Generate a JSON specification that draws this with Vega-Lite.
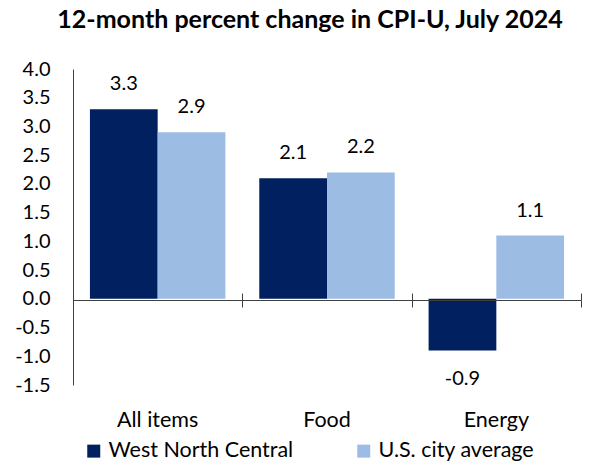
{
  "$schema": "https://vega.github.io/schema/vega-lite/v6.json",
  "autosize": "none",
  "width": 508,
  "height": 316,
  "padding": {"left": 73, "top": 69, "right": 17, "bottom": 81},
  "background": "white",
  "title": {"text": "12-month percent change in CPI-U, July 2024", "font": "Lato", "fontSize": 25, "fontWeight": "bold", "color": "black", "anchor": "middle", "dx": -17, "offset": 26},
  "config": {"view": {"stroke": null}, "font": "Lato"},
  "data": {"values": [
    {"cat": "All items", "series": "West North Central", "v": 3.3},
    {"cat": "All items", "series": "U.S. city average", "v": 2.9},
    {"cat": "Food", "series": "West North Central", "v": 2.1},
    {"cat": "Food", "series": "U.S. city average", "v": 2.2},
    {"cat": "Energy", "series": "West North Central", "v": -0.9},
    {"cat": "Energy", "series": "U.S. city average", "v": 1.1}
  ]},
  "encoding": {
    "x": {"field": "cat", "type": "nominal", "sort": ["All items", "Food", "Energy"], "scale": {"paddingInner": 0, "paddingOuter": 0}},
    "xOffset": {"field": "series", "type": "nominal", "sort": ["West North Central", "U.S. city average"], "scale": {"paddingInner": 0, "paddingOuter": 0.25}},
    "y": {"field": "v", "type": "quantitative", "scale": {"domain": [-1.5, 4], "nice": false, "zero": false},
      "axis": {"title": null, "grid": false, "ticks": false, "domain": true, "domainColor": "#404040", "domainWidth": 1, "values": [-1.5, -1, -0.5, 0, 0.5, 1, 1.5, 2, 2.5, 3, 3.5, 4], "format": ".1f", "labelExpr": "replace(datum.label, '\u2212', '-')", "labelFont": "Lato", "labelFontSize": 20, "labelColor": "black", "labelPadding": 23}}
  },
  "layer": [
    {
      "mark": {"type": "bar"},
      "encoding": {
        "x": {"field": "cat", "type": "nominal", "sort": ["All items", "Food", "Energy"], "axis": {"title": null, "orient": "bottom", "offset": -85, "labels": false, "domain": true, "domainColor": "#404040", "ticks": true, "tickColor": "#404040", "tickSize": 7, "tickBand": "extent", "zindex": 1}},
        "color": {"field": "series", "type": "nominal", "sort": ["West North Central", "U.S. city average"], "scale": {"range": ["#002060", "#9DBCE4"]},
          "legend": {"title": null, "orient": "none", "direction": "horizontal", "legendX": 10, "legendY": 371, "symbolType": "square", "symbolSize": 169, "symbolStrokeWidth": 0, "symbolOpacity": 1, "labelFont": "Lato", "labelFontSize": 21.5, "labelColor": "black", "labelOffset": 4, "labelLimit": 400, "columnPadding": 59}}
      }
    },
    {
      "transform": [{"filter": "datum.v >= 0"}, {"calculate": "replace(format(datum.v, '.1f'), '\u2212', '-')", "as": "lab"}],
      "mark": {"type": "text", "dy": -25, "baseline": "middle", "fontSize": 20, "color": "black", "font": "Lato"},
      "encoding": {
        "x": {"field": "cat", "type": "nominal", "sort": ["All items", "Food", "Energy"], "axis": {"title": null, "orient": "bottom", "domain": false, "ticks": false, "labelFont": "Lato", "labelFontSize": 21.5, "labelColor": "black", "labelPadding": 24, "labelAngle": 0}},
        "text": {"field": "lab", "type": "nominal"}
      }
    },
    {
      "transform": [{"filter": "datum.v < 0"}, {"calculate": "replace(format(datum.v, '.1f'), '\u2212', '-')", "as": "lab"}],
      "mark": {"type": "text", "dy": 28, "baseline": "middle", "fontSize": 20, "color": "black", "font": "Lato"},
      "encoding": {
        "x": {"field": "cat", "type": "nominal", "sort": ["All items", "Food", "Energy"], "axis": {"title": null, "orient": "bottom", "offset": -85, "labels": false, "domain": false, "ticks": true, "tickColor": "#404040", "tickSize": -7, "tickBand": "extent", "zindex": 1}},
        "text": {"field": "lab", "type": "nominal"}
      }
    }
  ],
  "resolve": {"axis": {"x": "independent"}}
}
